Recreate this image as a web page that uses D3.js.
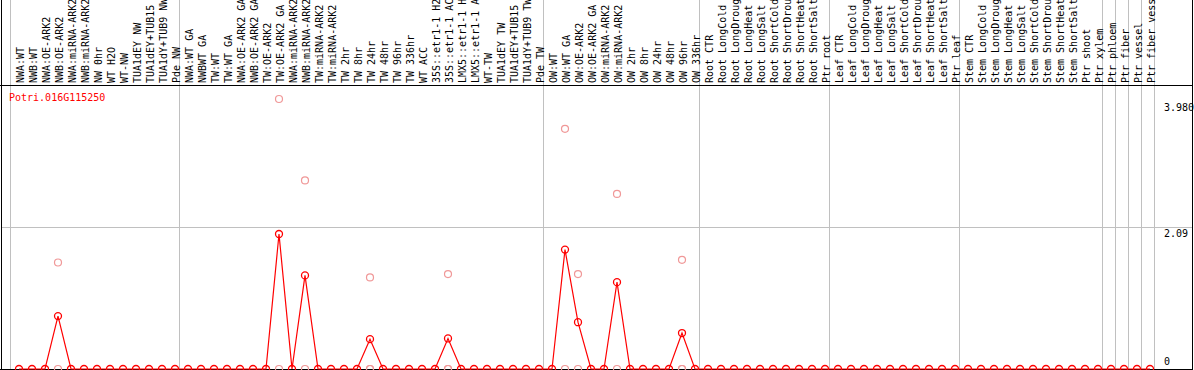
<!DOCTYPE html>
<html><head><meta charset="utf-8">
<script src="https://cdn.jsdelivr.net/npm/d3@7"></script>
<style>html,body{margin:0;padding:0;background:#fff;overflow:hidden}svg{display:block}</style>
</head><body><svg id="c" width="1194" height="370"></svg>
<script>
const title = "Potri.016G115250";
// column labels as shown (truncated by the header height in the reference)
const categories = [
 "NWA:WT","NWB:WT","NWA:OE-ARK2","NWB:OE-ARK2","NWA:miRNA-ARK2","NWB:miRNA-ARK2","NW 0hr","WT H2O","WT-NW","TUA1dEY NW","TUA1dEY+TUB15","TUA1dY+TUB9 NW","Pde NW",
 "NWA:WT GA","NWBWT GA","TW:WT","TW:WT GA","NWA:OE-ARK2 GA","NWB:OE-ARK2 GA","TW:OE-ARK2","TW:OE-ARK2 GA","NWA:miRNA-ARK2","NWB:miRNA-ARK2","TW:miRNA-ARK2","TW:miRNA-ARK2","TW 2hr","TW 8hr","TW 24hr","TW 48hr","TW 96hr","TW 336hr","WT ACC","35S::etr1-1 H2","35S::etr1-1 AC","LMX5::etr1-1 H","LMX5::etr1-1 A","WT-TW","TUA1dEY TW","TUA1dEY+TUB15","TUA1dY+TUB9 TW","Pde TW",
 "OW:WT","OW:WT GA","OW:OE-ARK2","OW:OE-ARK2 GA","OW:miRNA-ARK2","OW:miRNA-ARK2","OW 2hr","OW 8hr","OW 24hr","OW 48hr","OW 96hr","OW 336hr",
 "Root CTR","Root LongCold","Root LongDroug","Root LongHeat","Root LongSalt","Root ShortCold","Root ShortDrou","Root ShortHeat","Root ShortSalt","Ptr root",
 "Leaf CTR","Leaf LongCold","Leaf LongDroug","Leaf LongHeat","Leaf LongSalt","Leaf ShortCold","Leaf ShortDrou","Leaf ShortHeat","Leaf ShortSalt","Ptr leaf",
 "Stem CTR","Stem LongCold","Stem LongDroug","Stem LongHeat","Stem LongSalt","Stem ShortCold","Stem ShortDrou","Stem ShortHeat","Stem ShortSalt","Ptr shoot","Ptr xylem",
 "Ptr phloem","Ptr fiber","Ptr vessel","Ptr fiber vess"
];
const groupSizes = [13,28,12,10,10,11,1,1,1,1];
// mean expression per column (red line)
const meanValues = [
 0,0,0,0.78,0,0,0,0,0,0,0,0,0,
 0,0,0,0,0,0,0,1.99,0,1.38,0,0,0,0,0.44,0,0,0,0,0,0.45,0,0,0,0,0,0,0,
 0,1.76,0.69,0,0,1.28,0,0,0,0,0.53,0,
 0,0,0,0,0,0,0,0,0,0,
 0,0,0,0,0,0,0,0,0,0,
 0,0,0,0,0,0,0,0,0,0,0,
 0,0,0,0
];
// replicate values (pink circles) for the non-zero columns, by column index
const repColumns = [3, 20, 22, 27, 33, 42, 43, 46, 51];
const repValues  = [[1.57,0],[3.98,0],[2.78,0],[1.35,0,0],[1.40,0,0],[3.54,0],[1.40,0],[2.58,0],[1.61,0,0]];
const yTickValues = [3.98, 2.09, 0];
const yTickLabels = ["3.980", "2.09", "0"];

const svg = d3.select("#c");
const mono = "'DejaVu Sans Mono', monospace";
const idx = d3.range(categories.length);

const band = d3.scaleBand().domain(idx).range([10.5, 10.5 + 13*categories.length]).padding(0);
const cx = i => band(i) + 8.5;
const y = d3.scaleLinear().domain([0, 3.98]).range([369, 99]);

// group boundaries
const bounds = [0];
groupSizes.forEach(s => bounds.push(bounds[bounds.length-1] + s));
const boundX = bounds.map(i => i < categories.length ? band(i) : band(categories.length-1) + band.bandwidth());

const grid = svg.append("g").attr("stroke", "#c0c0c0").attr("stroke-width", 1);
grid.selectAll("line.v").data(boundX).join("line")
  .attr("x1", d => Math.floor(d)+0.5).attr("x2", d => Math.floor(d)+0.5)
  .attr("y1", 0).attr("y2", 369);
grid.append("line").attr("x1", 1).attr("x2", 1193)
  .attr("y1", Math.round(y(2.09))+0.5).attr("y2", Math.round(y(2.09))+0.5);

// header labels
svg.append("g").selectAll("text").data(idx).join("text")
  .attr("transform", i => `translate(${cx(i)+4.5},83) rotate(-90)`)
  .attr("font-family", mono).attr("font-size", 10).attr("fill", "#000")
  .text(i => categories[i]);

// frame lines
const frame = svg.append("g").attr("stroke", "#000").attr("stroke-width", 1);
frame.append("line").attr("x1", 0).attr("x2", 1193).attr("y1", 85.5).attr("y2", 85.5);
frame.append("line").attr("x1", 1.5).attr("x2", 1.5).attr("y1", 0).attr("y2", 370);
frame.append("line").attr("x1", 0).attr("x2", 1193).attr("y1", 369.5).attr("y2", 369.5);

// y labels
const yl = svg.append("g");
yTickValues.forEach((v, i) => {
  const ty = i === 2 ? y(v) - 4 : (i === 0 ? y(v) + 12 : y(v) + 10);
  const t = yl.append("text").attr("x", 1164).attr("y", ty)
    .attr("font-family", mono).attr("font-size", 10).attr("fill", "#000").text(yTickLabels[i]);
  if (i === 1) {
    const bb = t.node().getBBox();
    yl.insert("rect", "text").attr("x", bb.x-1).attr("y", bb.y).attr("width", bb.width+2).attr("height", bb.height).attr("fill", "#fff");
  }
});
svg.append("line").attr("x1", 1192.5).attr("x2", 1192.5).attr("y1", 0).attr("y2", 370).attr("stroke", "#000");

// replicate pink circles
const reps = [];
repColumns.forEach((c, i) => repValues[i].forEach(v => reps.push({c, v})));
svg.append("g").selectAll("circle").data(reps).join("circle")
  .attr("cx", d => cx(d.c)).attr("cy", d => y(d.v)).attr("r", 3.5)
  .attr("fill", "none").attr("stroke", "#f09898").attr("stroke-width", 1.2);

// mean line + circles
const pts = idx.map(i => ({c: i, v: meanValues[i]}));
svg.append("path").datum(pts)
  .attr("d", d3.line().x(d => cx(d.c)).y(d => y(d.v)))
  .attr("fill", "none").attr("stroke", "#ff0000").attr("stroke-width", 1.2);
svg.append("g").selectAll("circle").data(pts).join("circle")
  .attr("cx", d => cx(d.c)).attr("cy", d => y(d.v)).attr("r", 3.5)
  .attr("fill", "none").attr("stroke", "#ff0000").attr("stroke-width", 1.3);

// title
svg.append("text").attr("x", 9).attr("y", 101)
  .attr("font-family", mono).attr("font-size", 10).attr("fill", "#ff0000").text(title);
</script></body></html>
